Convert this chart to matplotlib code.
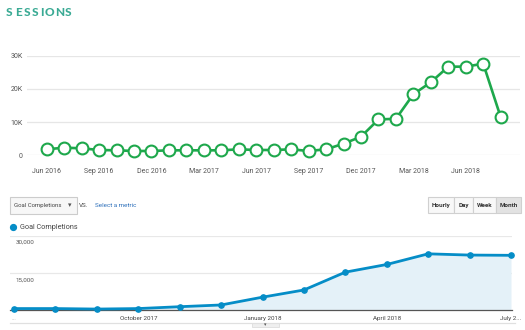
import matplotlib
matplotlib.use("Agg")
import matplotlib.pyplot as plt
from matplotlib.patches import Rectangle

plt.rcParams['font.family'] = ['Roboto', 'DejaVu Sans']

# ---------------- data ----------------
session_months = ["Jun 2016", "Jul 2016", "Aug 2016", "Sep 2016", "Oct 2016", "Nov 2016",
                  "Dec 2016", "Jan 2017", "Feb 2017", "Mar 2017", "Apr 2017", "May 2017",
                  "Jun 2017", "Jul 2017", "Aug 2017", "Sep 2017", "Oct 2017", "Nov 2017",
                  "Dec 2017", "Jan 2018", "Feb 2018", "Mar 2018", "Apr 2018", "May 2018",
                  "Jun 2018", "Jul 2018", "Aug 2018"]
sessions = [1800, 2300, 2100, 1600, 1500, 1300, 1300, 1500, 1500, 1500, 1500, 1800,
            1600, 1600, 1800, 1300, 1800, 3500, 5600, 10800, 11000, 18400, 22000,
            26700, 26700, 27600, 11500]
session_yticks = [0, 10000, 20000, 30000]
session_ytick_labels = ["0", "10K", "20K", "30K"]

goal_months = ["July 2017", "Aug 2017", "Sep 2017", "October 2017", "Nov 2017", "Dec 2017",
               "January 2018", "Feb 2018", "Mar 2018", "April 2018", "May 2018", "Jun 2018",
               "July 2018"]
goals = [700, 700, 500, 700, 1450, 2150, 5300, 8200, 15400, 18500, 22800, 22300, 22200]
goal_tick_idx = [0, 3, 6, 9, 12]
goal_tick_labels = ["...", "October 2017", "January 2018", "April 2018", "July 2..."]
goal_yticks = [15000, 30000]
goal_ytick_labels = ["15,000", "30,000"]
buttons = ["Hourly", "Day", "Week", "Month"]

W, H = 525, 330
fig = plt.figure(figsize=(W / 100, H / 100), dpi=100)
fig.patch.set_facecolor("white")


def px_axes(x0, y0, x1, y1):
    return fig.add_axes([x0 / W, 1 - y1 / H, (x1 - x0) / W, (y1 - y0) / H])


# overlay axes in pixel coordinates for decorations
ov = fig.add_axes([0, 0, 1, 1], zorder=10)
ov.set_xlim(0, W)
ov.set_ylim(H, 0)
ov.axis("off")
ov.patch.set_alpha(0)

# ---------------- title ----------------
teal = "#3aaa94"
letters = "SESSIONS"
lx = [9.4, 18.0, 26.7, 35.4, 42.3, 49.5, 59.2, 68.5]
for ch, x in zip(letters, lx):
    ov.text(x, 12, ch, fontsize=8.6, fontweight="black", color=teal,
            ha="center", va="center", family=["Lato", "DejaVu Sans"])

# ---------------- top chart ----------------
green = "#1ea84c"
n = len(sessions)
pitch = (500.7 - 46.7) / (n - 1)
ax1 = px_axes(27, 55.7, 520, 155.3)
ax1.set_xlim(-(46.7 - 27) / pitch, (n - 1) + (520 - 500.7) / pitch)
ax1.set_ylim(0, 30000)
ax1.plot(range(n), sessions, color=green, lw=1.9, marker="o", ms=8.5,
         mfc="white", mec=green, mew=1.5, clip_on=False, zorder=3)
for s in ax1.spines.values():
    s.set_visible(False)
ax1.set_yticks(session_yticks)
ax1.set_yticklabels(session_ytick_labels)
ax1.grid(axis="y", color="#e6e6e6", lw=0.9)
ax1.set_axisbelow(True)
xt = list(range(0, n, 3))
ax1.set_xticks(xt)
ax1.set_xticklabels([session_months[i] for i in xt])
ax1.tick_params(axis="both", length=0, labelsize=5, labelcolor="#555555")
ax1.tick_params(axis="x", pad=9.5)
ax1.tick_params(axis="y", pad=3)
ax1.patch.set_alpha(0)

# ---------------- controls row ----------------
ov.add_patch(Rectangle((10, 196.5), 66.5, 17, facecolor="#f7f7f7", edgecolor="#cccccc", lw=0.8))
ov.text(14.5, 205.2, "Goal Completions", fontsize=4.3, color="#444444", va="center", ha="left")
ov.text(70, 205.2, "\u25be", fontsize=5, color="#555555", va="center", ha="center",
        family=["DejaVu Sans"])
ov.text(79, 205.2, "VS.", fontsize=4.5, color="#444444", va="center", ha="left")
ov.text(95, 205.2, "Select a metric", fontsize=4.5, color="#2c6fba", va="center", ha="left")

bx = [428, 454, 473, 496, 521]
for i, lab in enumerate(buttons):
    fc = "#e2e2e2" if lab == "Month" else "#f8f8f8"
    ov.add_patch(Rectangle((bx[i], 197.3), bx[i + 1] - bx[i], 16, facecolor=fc,
                           edgecolor="#d0d0d0", lw=0.8))
    ov.text((bx[i] + bx[i + 1]) / 2, 205.4, lab, fontsize=4.5, fontweight="bold",
            color="#333333", ha="center", va="center")

# legend
blue = "#058dc7"
ov.plot([13], [227.3], marker="o", ms=4.2, color=blue, ls="none")
ov.text(20, 227.3, "Goal Completions", fontsize=5.2, color="#444444", va="center", ha="left")

# ---------------- bottom chart ----------------
m = len(goals)
gp = (511 - 14) / (m - 1)
ax2 = px_axes(10, 236, 512, 310.3)
ax2.set_xlim(-(14 - 10) / gp, (m - 1) + (512 - 511) / gp)
ax2.set_ylim(0, 30000)
ax2.fill_between(range(m), goals, 0, color="#e4f1f8", lw=0, zorder=1)
ax2.plot(range(m), goals, color=blue, lw=2.0, marker="o", ms=3.8, mfc=blue,
         mec=blue, clip_on=False, zorder=3)
for k, s in ax2.spines.items():
    s.set_visible(k == "bottom")
ax2.spines["bottom"].set_color("#555555")
ax2.spines["bottom"].set_linewidth(0.9)
ax2.set_yticks(goal_yticks)
ax2.set_yticklabels([])
ax2.grid(axis="y", color="#e8e8e8", lw=0.9)
ax2.set_axisbelow(True)
ax2.set_xticks(goal_tick_idx)
ax2.set_xticklabels(goal_tick_labels)
ax2.tick_params(axis="both", length=0, labelsize=4.5, labelcolor="#444444")
ax2.tick_params(axis="x", pad=4)
ax2.get_xticklabels()[0].set_color("#aaaaaa")
ax2.patch.set_alpha(0)
for v, lab in zip(goal_yticks, goal_ytick_labels):
    ax2.annotate(lab, xy=(0, v), xycoords=("axes fraction", "data"),
                 xytext=(16 - 10, -6.5), textcoords="offset pixels",
                 fontsize=4.5, color="#555555", ha="left", va="center")

# bottom scroller
ov.plot([10, 515], [322.5, 322.5], color="#e0e0e0", lw=0.9)
ov.add_patch(Rectangle((252, 322.5), 27, 4.5, facecolor="#efefef", edgecolor="#dddddd", lw=0.6))
ov.text(265.5, 324.8, "\u25be", fontsize=3.5, color="#555555", ha="center", va="center",
        family=["DejaVu Sans"])

fig.savefig("out.png", dpi=100, facecolor="white")
